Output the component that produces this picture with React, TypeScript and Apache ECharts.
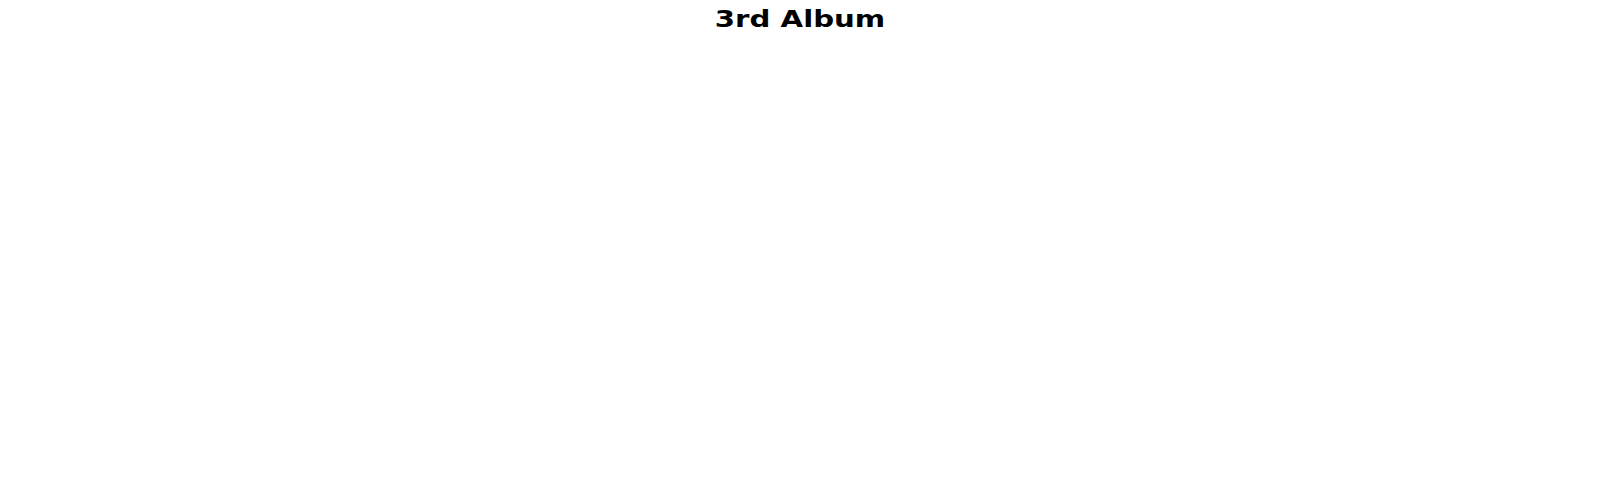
import React, { useEffect, useRef } from "react";
import * as echarts from "echarts";

const titleText = "3rd Album";

export default function App() {
  const ref = useRef<HTMLDivElement>(null);
  useEffect(() => {
    if (!ref.current) return;
    const chart = echarts.init(ref.current, undefined, { renderer: "svg" });
    chart.setOption({
      animation: false,
      backgroundColor: "#ffffff",
      graphic: [
        {
          type: "text",
          x: 800,
          y: 19,
          scaleX: 1.27,
          scaleY: 1,
          style: {
            text: titleText,
            align: "center",
            verticalAlign: "middle",
            fontFamily: "DejaVu Sans",
            fontWeight: "bold",
            fontSize: 23,
            fill: "#000000",
          },
        },
      ],
      series: [],
    });
    return () => chart.dispose();
  }, []);
  return (
    <div
      ref={ref}
      style={{ position: "fixed", left: 0, top: 0, width: 1600, height: 500 }}
    />
  );
}
